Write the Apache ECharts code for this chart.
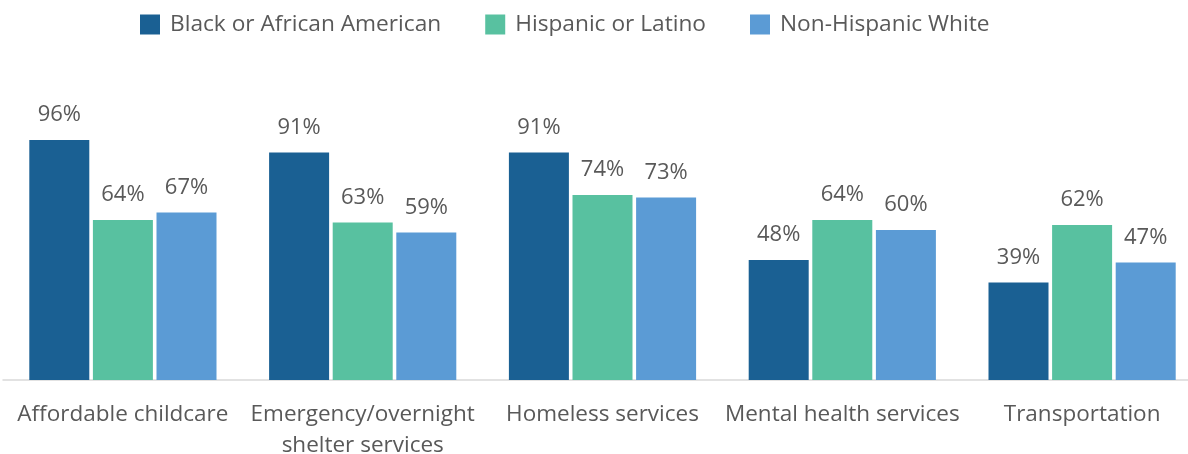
<!DOCTYPE html>
<html><head><meta charset="utf-8">
<script src="https://cdn.jsdelivr.net/npm/echarts@6/dist/echarts.min.js"></script>
<style>html,body{margin:0;padding:0;background:#fff}#c{width:1188px;height:454px}</style>
</head><body><div id="c"></div>
<script>
const categories = ['Affordable childcare', 'Emergency/overnight\nshelter services', 'Homeless services', 'Mental health services', 'Transportation'];
const seriesNames = ['Black or African American', 'Hispanic or Latino', 'Non-Hispanic White'];
const black = [96, 91, 91, 48, 39];
const hispanic = [64, 63, 74, 64, 62];
const white = [67, 59, 73, 60, 47];
const colors = ['#1a6093', '#58c1a0', '#5b9bd5'];
const values = [black, hispanic, white];

const chart = echarts.init(document.getElementById('c'));
chart.setOption({
  animation: false,
  textStyle: { fontFamily: 'Open Sans' },
  legend: {
    top: 8, left: 135, itemWidth: 20, itemHeight: 20, itemGap: 44,
    icon: 'rect',
    textStyle: { fontSize: 22.7, color: '#595959', fontFamily: 'Open Sans', padding: [0, 0, 0, 5] },
    data: seriesNames
  },
  grid: { left: 3, width: 1199, top: 130, height: 250, containLabel: false, outerBoundsMode: 'none' },
  xAxis: {
    type: 'category', data: categories,
    axisLine: { lineStyle: { color: '#d9d9d9', width: 1.5 } },
    axisTick: { show: false },
    axisLabel: { fontSize: 22.5, color: '#595959', margin: 19, lineHeight: 31, interval: 0, fontFamily: 'Open Sans' }
  },
  yAxis: { type: 'value', min: 0, max: 100, show: false, splitLine: { show: false } },
  series: seriesNames.map((n, i) => ({
    name: n, type: 'bar', data: values[i],
    barWidth: 60, barGap: '6%', barCategoryGap: '21%',
    itemStyle: { color: colors[i] },
    label: { show: true, position: 'top', distance: 14, formatter: '{c}%', fontSize: 22, color: '#595959', fontFamily: 'Open Sans' }
  }))
});
</script></body></html>
